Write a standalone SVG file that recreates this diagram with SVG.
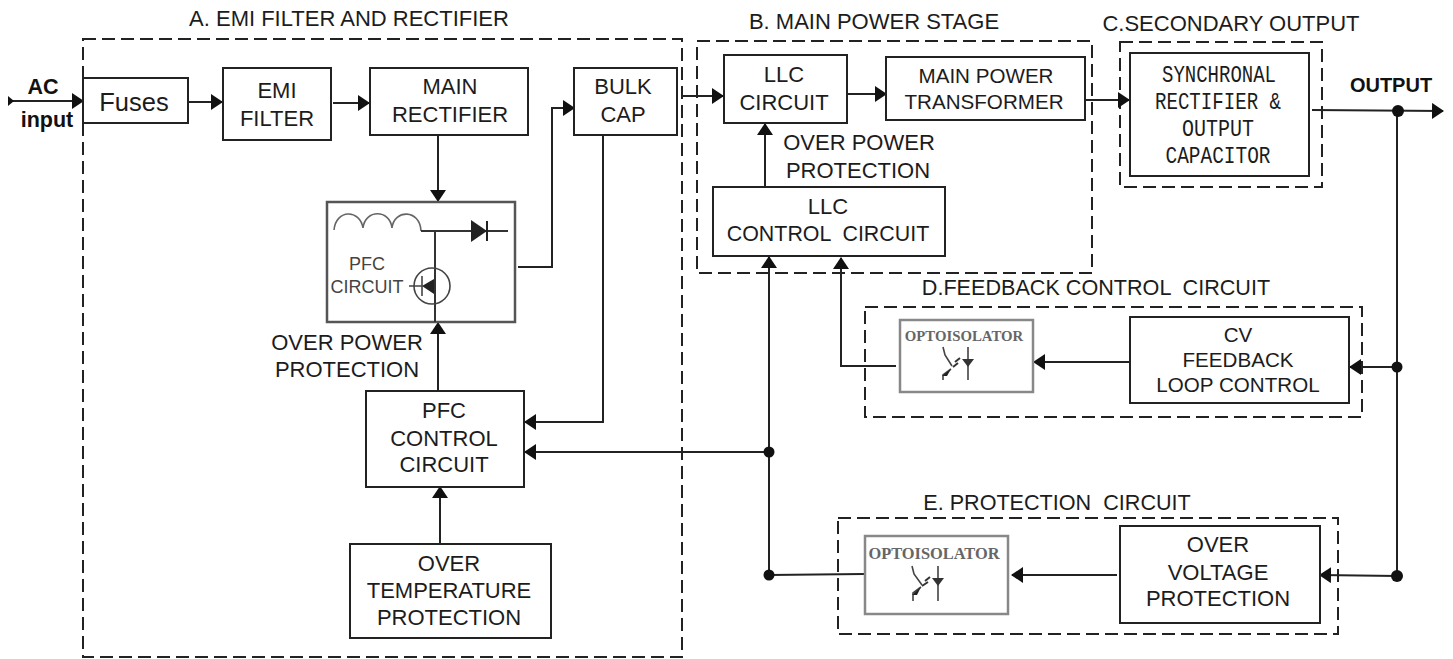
<svg xmlns="http://www.w3.org/2000/svg" width="1453" height="659" viewBox="0 0 1453 659">
<style>
text{font-family:"Liberation Sans",Arial,sans-serif;font-size:22px;fill:#1c1c1c;text-anchor:middle;white-space:pre}
.b{font-weight:bold;font-size:21.5px;fill:#111}
.f{font-size:25.5px}
.n{font-size:20.6px}
.s{font-family:"Liberation Mono","Courier New",monospace;font-size:23px}
.o{font-family:"Liberation Serif",serif;font-weight:bold;fill:#666}
.p{font-size:18px;fill:#444}
.box{fill:#fff;stroke:#222;stroke-width:2}
.dash{fill:none;stroke:#222;stroke-width:2;stroke-dasharray:13 6}
.line{fill:none;stroke:#222;stroke-width:2}
.gray{fill:#fff;stroke:#888;stroke-width:2.5}
.sym{fill:none;stroke:#444;stroke-width:1.6}
.dot{fill:#111}
</style>
<defs>
<marker id="a" markerUnits="userSpaceOnUse" markerWidth="12" markerHeight="16" refX="11" refY="8" orient="auto"><path d="M0 0L12 8L0 16Z" fill="#111"/></marker>
</defs>
<g id="groups">
<rect id="group-a" class="dash" x="83" y="39" width="599" height="618"/>
<rect id="group-b" class="dash" x="697" y="41" width="395" height="232"/>
<rect id="group-c" class="dash" x="1120" y="42" width="202" height="145"/>
<rect id="group-d" class="dash" x="865" y="307" width="497" height="110"/>
<rect id="group-e" class="dash" x="838" y="518" width="500" height="116"/>
<text x="349" y="26">A. EMI FILTER AND RECTIFIER</text>
<text x="874" y="29">B. MAIN POWER STAGE</text>
<text x="1231" y="31">C.SECONDARY OUTPUT</text>
<text x="1096" y="295" style="font-size:21.6px">D.FEEDBACK CONTROL  CIRCUIT</text>
<text x="1057" y="510" style="font-size:21.6px">E. PROTECTION  CIRCUIT</text>
</g>
<g id="connectors">
<path class="line" marker-end="url(#a)" d="M8 101H83"/>
<path d="M8 96L14 101L8 106Z" fill="#111"/>
<path class="line" marker-end="url(#a)" d="M187 102H222"/>
<path class="line" marker-end="url(#a)" d="M333 103H369"/>
<path class="line" marker-end="url(#a)" d="M438 135V201"/>
<path class="line" marker-end="url(#a)" d="M518 267H552V108H574"/>
<path class="line" marker-end="url(#a)" d="M603 135V422H525"/>
<path class="line" marker-end="url(#a)" d="M438 391V323"/>
<path class="line" marker-end="url(#a)" d="M440 544V487"/>
<path class="line" marker-end="url(#a)" d="M769 575V452H525"/>
<path class="line" marker-end="url(#a)" d="M769 452V257"/>
<path class="line" d="M769 575L864 574"/>
<path class="line" marker-end="url(#a)" d="M682 96H723"/>
<path class="line" marker-end="url(#a)" d="M847 94H886"/>
<path class="line" marker-end="url(#a)" d="M1086 100H1129"/>
<path class="line" marker-end="url(#a)" d="M765 187V124"/>
<path class="line" marker-end="url(#a)" d="M896 366H841V258"/>
<path class="line" marker-end="url(#a)" d="M1130 362H1034"/>
<path class="line" marker-end="url(#a)" d="M1117 575H1012"/>
<path class="line" marker-end="url(#a)" d="M1312 110L1443 111"/>
<path class="line" d="M1397 111V576"/>
<path class="line" marker-end="url(#a)" d="M1397 367H1350"/>
<path class="line" marker-end="url(#a)" d="M1397 576L1320 575"/>
<circle class="dot" cx="1398" cy="111" r="6"/>
<circle class="dot" cx="1397" cy="367" r="5.5"/>
<circle class="dot" cx="1397" cy="576" r="6"/>
<circle class="dot" cx="769" cy="452" r="5.5"/>
<circle class="dot" cx="769" cy="575" r="5.5"/>
</g>
<g id="ac-input"><text class="b" x="43" y="94">AC</text><text class="b" x="47" y="127">input</text></g>
<g id="fuses"><rect class="box" x="83" y="78" width="105" height="45"/><text class="f" x="134" y="111">Fuses</text></g>
<g id="emi-filter"><rect class="box" x="223" y="68" width="108" height="72"/><text x="277" y="98">EMI</text><text x="277" y="126">FILTER</text></g>
<g id="main-rectifier"><rect class="box" x="370" y="68" width="158" height="67"/><text x="450" y="94">MAIN</text><text x="450" y="122">RECTIFIER</text></g>
<g id="bulk-cap"><rect class="box" x="574" y="68" width="103" height="67"/><text x="623" y="94">BULK</text><text x="623" y="122">CAP</text></g>
<g id="pfc-circuit">
<rect x="327" y="202" width="188" height="120" fill="#fff" stroke="#555" stroke-width="2.5"/>
<path d="M334 230C336 209 360 209 363 228C365 209 390 209 392 228C394 209 420 209 421 231" fill="none" stroke="#666" stroke-width="1.6"/>
<path d="M421 231H508" stroke="#333" stroke-width="2" fill="none"/>
<path d="M435 231V322" stroke="#333" stroke-width="2" fill="none"/>
<path d="M471 220L487 231L471 242Z" fill="#222"/><path d="M487 221V241" stroke="#222" stroke-width="2"/>
<circle class="sym" cx="432" cy="286" r="18"/>
<path d="M409 286H422M422 276V296" class="sym"/><path d="M434 279L422 286L434 294Z" fill="#222"/>
<path d="M435 270V302" stroke="#333" stroke-width="1.6"/>
<text class="p" x="367" y="270">PFC</text><text class="p" x="367" y="293">CIRCUIT</text>
</g>
<g id="over-power-a"><text x="347" y="350">OVER POWER</text><text x="347" y="377">PROTECTION</text></g>
<g id="pfc-control"><rect class="box" x="366" y="391" width="158" height="96"/><text x="444" y="418">PFC</text><text x="444" y="446">CONTROL</text><text x="444" y="472">CIRCUIT</text></g>
<g id="over-temperature"><rect class="box" x="350" y="544" width="201" height="94"/><text x="449" y="571">OVER</text><text x="449" y="598">TEMPERATURE</text><text x="449" y="625">PROTECTION</text></g>
<g id="llc-circuit"><rect class="box" x="724" y="55" width="123" height="68"/><text x="784" y="82">LLC</text><text x="784" y="110">CIRCUIT</text></g>
<g id="main-transformer"><rect class="box" x="886" y="57" width="199" height="63"/><text class="n" x="986" y="83">MAIN POWER</text><text class="n" x="984" y="109">TRANSFORMER</text></g>
<g id="over-power-b"><text x="859" y="150">OVER POWER</text><text x="858" y="178">PROTECTION</text></g>
<g id="llc-control"><rect class="box" x="713" y="187" width="232" height="69"/><text x="828" y="214">LLC</text><text x="828" y="241" style="font-size:21.4px">CONTROL  CIRCUIT</text></g>
<g id="sync-rectifier"><rect class="box" x="1130" y="53" width="179" height="123"/><text class="s" x="1219" y="82" textLength="114" lengthAdjust="spacingAndGlyphs">SYNCHRONAL</text><text class="s" x="1218" y="109" textLength="126" lengthAdjust="spacingAndGlyphs">RECTIFIER &amp;</text><text class="s" x="1218" y="136" textLength="72" lengthAdjust="spacingAndGlyphs">OUTPUT</text><text class="s" x="1218" y="163" textLength="105" lengthAdjust="spacingAndGlyphs">CAPACITOR</text></g>
<g id="output-label"><text class="b" x="1391" y="92" style="font-size:20px">OUTPUT</text></g>
<g id="optoisolator-d">
<rect class="gray" x="900" y="320" width="133" height="72"/>
<text class="o" x="964" y="341" style="font-size:14.8px">OPTOISOLATOR</text>
<path class="sym" d="M943 347L945 355L952 366M951 369L943 375V380M968 347V380"/><path d="M962 359H974L968 367Z" fill="#333"/><path d="M953 367L958 363M955 362L960 358" stroke="#333" stroke-width="2"/><path d="M942 376L951 369L947 376Z" fill="#222"/>
</g>
<g id="cv-feedback"><rect class="box" x="1130" y="317" width="219" height="86"/><text class="n" x="1238" y="342">CV</text><text class="n" x="1238" y="367">FEEDBACK</text><text class="n" x="1238" y="392">LOOP CONTROL</text></g>
<g id="optoisolator-e">
<rect class="gray" x="865" y="536" width="143" height="78"/>
<text class="o" x="934" y="559" style="font-size:16.4px">OPTOISOLATOR</text>
<path class="sym" d="M912 566L914 574L922 585M921 587L913 593V601M938 566V601"/><path d="M932 578H944L938 586Z" fill="#333"/><path d="M922 586L928 582M925 581L930 577" stroke="#333" stroke-width="2"/><path d="M912 595L921 587L917 595Z" fill="#222"/>
</g>
<g id="over-voltage"><rect class="box" x="1120" y="526" width="200" height="97"/><text x="1218" y="552">OVER</text><text x="1218" y="580">VOLTAGE</text><text x="1218" y="606">PROTECTION</text></g>
</svg>
